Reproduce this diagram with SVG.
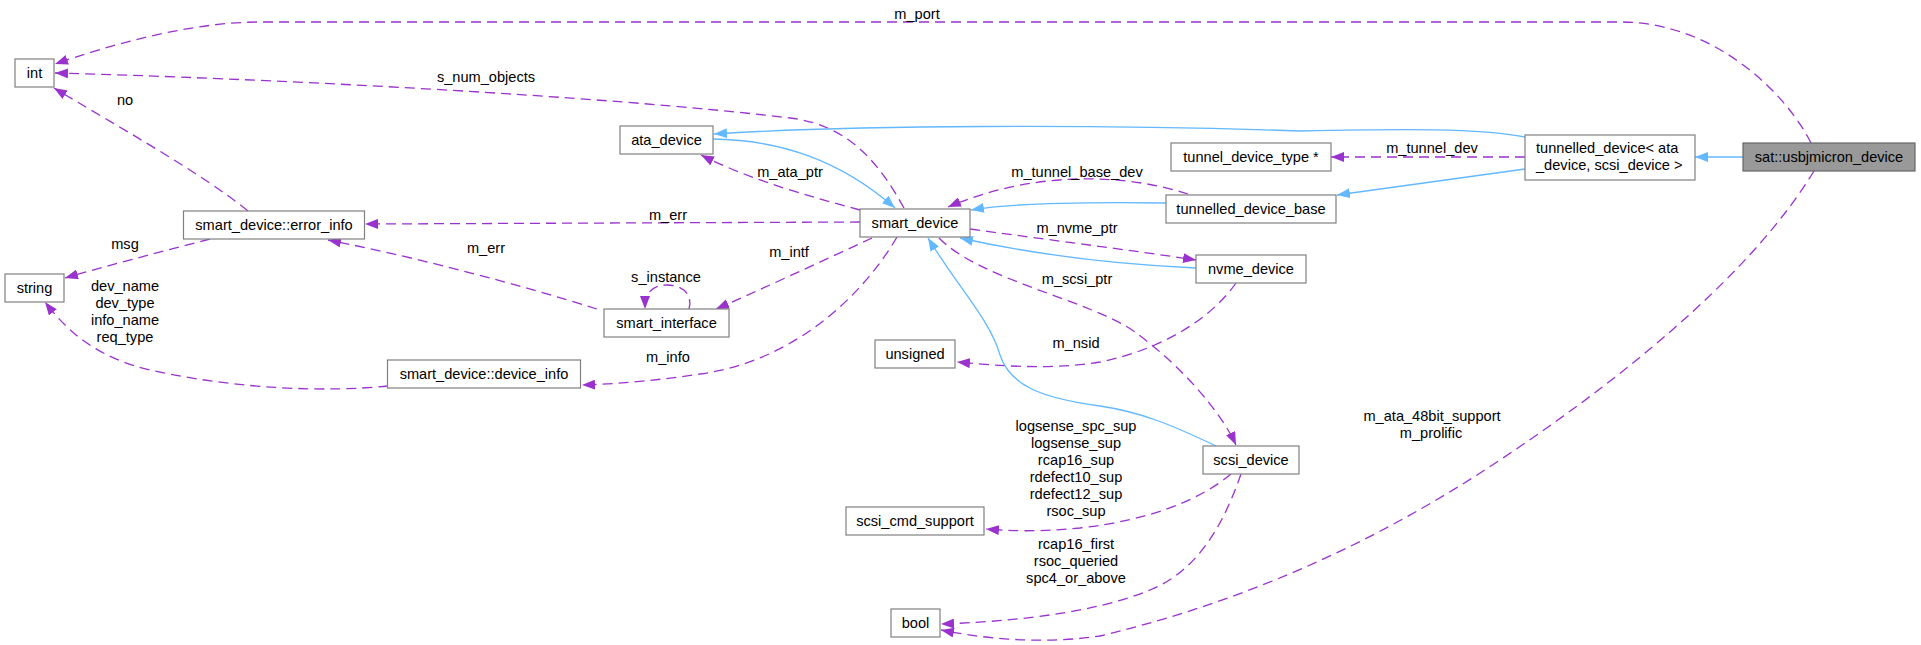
<svg xmlns="http://www.w3.org/2000/svg" width="1921" height="645" viewBox="0 0 1921 645">
<style>
.n rect{fill:#fff;stroke:#808080;stroke-width:1.2}
.n.f rect{fill:#999;stroke:#666}
text{font-family:"Liberation Sans",Arial,sans-serif;font-size:14.6px;fill:#000}
.n text{text-anchor:middle}
.lb text{text-anchor:middle}
.d{fill:none;stroke:#9a32cd;stroke-width:1.3;stroke-dasharray:10,6;marker-end:url(#ap)}
.s{fill:none;stroke:#63b8ff;stroke-width:1.3;marker-end:url(#ab)}
</style>
<defs>
<marker id="ap" markerUnits="userSpaceOnUse" viewBox="0 0 14 10" markerWidth="14" markerHeight="10" refX="13" refY="5" orient="auto"><path d="M0,0 L13,5 L0,10 z" fill="#9a32cd"/></marker>
<marker id="ab" markerUnits="userSpaceOnUse" viewBox="0 0 14 10" markerWidth="14" markerHeight="10" refX="13" refY="5" orient="auto"><path d="M0,0 L13,5 L0,10 z" fill="#63b8ff"/></marker>
</defs>
<rect width="1921" height="645" fill="#fff"/>
<g id="edges">
<path class="d" d="M1811,143 C1790,100 1720,22 1620,22 L260,22 C190,22 110,45 55,64"/>
<path class="d" d="M904,208 C880,165 850,125 790,118 C600,95 250,78 55,73"/>
<path class="d" d="M248,211 C200,172 110,122 54,88"/>
<path class="d" d="M860,222 L365,224"/>
<path class="d" d="M597,309 C520,285 420,258 328,240"/>
<path class="d" d="M210,239 C160,252 110,265 65,278"/>
<path class="d" d="M388,386 C330,392 240,390 150,370 C100,358 70,335 45,302"/>
<path class="d" d="M689,309 C693,296 684,285 667,285 C652,285 645,293 645,309"/>
<path class="d" d="M872,238 C820,262 760,290 716,309"/>
<path class="d" d="M897,237 C860,300 790,362 700,374 C660,380 620,384 582,385"/>
<path class="d" d="M860,210 C815,198 750,180 701,155"/>
<path class="d" d="M1188,194 C1120,172 1030,172 948,207"/>
<path class="d" d="M970,229 C1050,240 1130,250 1196,260"/>
<path class="d" d="M939,238 C980,280 1090,300 1135,332 C1180,365 1220,410 1236,445"/>
<path class="d" d="M1236,283 C1210,320 1160,350 1100,362 C1050,370 1000,366 957,362"/>
<path class="d" d="M1231,474 C1200,500 1150,520 1080,528 C1040,532 1010,531 986,529"/>
<path class="d" d="M1241,474 C1225,520 1200,570 1150,590 C1090,615 1000,622 941,624"/>
<path class="d" d="M1814,171 C1760,260 1650,360 1500,460 C1380,540 1250,600 1100,636 C1040,645 980,638 941,630"/>
<path class="d" d="M1525,157 L1331,157"/>
<path class="s" d="M1743,157 L1695,157"/>
<path class="s" d="M1525,137 C1480,128 1400,129 1300,131 C1100,124 850,125 714,134"/>
<path class="s" d="M1525,169 L1337,195"/>
<path class="s" d="M1166,203 C1100,202 1020,202 971,210"/>
<path class="s" d="M1196,268 C1130,265 1050,258 960,238"/>
<path class="s" d="M1216,446 C1170,424 1140,412 1100,406 C1040,398 1010,385 1000,355 C990,320 960,290 928,238"/>
<path class="s" d="M713,139 C780,140 840,160 895,208"/>
</g>
<g id="labels" class="lb">
<text x="917" y="19">m_port</text>
<text x="486" y="82">s_num_objects</text>
<text x="125" y="105">no</text>
<text x="668" y="220">m_err</text>
<text x="486" y="253">m_err</text>
<text x="125" y="249">msg</text>
<text x="125" y="291">dev_name</text>
<text x="125" y="308">dev_type</text>
<text x="125" y="325">info_name</text>
<text x="125" y="342">req_type</text>
<text x="666" y="282">s_instance</text>
<text x="789" y="257">m_intf</text>
<text x="668" y="362">m_info</text>
<text x="790" y="177">m_ata_ptr</text>
<text x="1077" y="177">m_tunnel_base_dev</text>
<text x="1077" y="233">m_nvme_ptr</text>
<text x="1077" y="284">m_scsi_ptr</text>
<text x="1076" y="348">m_nsid</text>
<text x="1076" y="431">logsense_spc_sup</text>
<text x="1076" y="448">logsense_sup</text>
<text x="1076" y="465">rcap16_sup</text>
<text x="1076" y="482">rdefect10_sup</text>
<text x="1076" y="499">rdefect12_sup</text>
<text x="1076" y="516">rsoc_sup</text>
<text x="1076" y="549">rcap16_first</text>
<text x="1076" y="566">rsoc_queried</text>
<text x="1076" y="583">spc4_or_above</text>
<text x="1432" y="153">m_tunnel_dev</text>
<text x="1432" y="421">m_ata_48bit_support</text>
<text x="1431" y="438">m_prolific</text>
</g>
<g id="n_int" class="n"><rect x="15" y="59" width="39" height="28"/><text x="34.5" y="78">int</text></g>
<g id="n_string" class="n"><rect x="5" y="274" width="59" height="28"/><text x="34.5" y="293">string</text></g>
<g id="n_error_info" class="n"><rect x="183.5" y="211" width="181" height="28"/><text x="274" y="230">smart_device::error_info</text></g>
<g id="n_device_info" class="n"><rect x="387.5" y="360" width="193" height="28"/><text x="484" y="379">smart_device::device_info</text></g>
<g id="n_ata_device" class="n"><rect x="620" y="126" width="93" height="28"/><text x="666.5" y="145">ata_device</text></g>
<g id="n_smart_device" class="n"><rect x="860" y="209" width="110" height="28"/><text x="915" y="228">smart_device</text></g>
<g id="n_smart_interface" class="n"><rect x="604" y="309" width="125" height="28"/><text x="666.5" y="328">smart_interface</text></g>
<g id="n_unsigned" class="n"><rect x="875" y="340" width="80" height="28"/><text x="915" y="359">unsigned</text></g>
<g id="n_scsi_cmd_support" class="n"><rect x="846" y="507" width="138" height="28"/><text x="915" y="526">scsi_cmd_support</text></g>
<g id="n_bool" class="n"><rect x="891" y="609" width="49" height="28"/><text x="915.5" y="628">bool</text></g>
<g id="n_tunnel_device_type" class="n"><rect x="1171" y="143" width="160" height="28"/><text x="1251" y="162">tunnel_device_type *</text></g>
<g id="n_tunnelled_device_base" class="n"><rect x="1166" y="195" width="170" height="28"/><text x="1251" y="214">tunnelled_device_base</text></g>
<g id="n_nvme_device" class="n"><rect x="1196" y="255" width="110" height="28"/><text x="1251" y="274">nvme_device</text></g>
<g id="n_scsi_device" class="n"><rect x="1203" y="446" width="96" height="28"/><text x="1251" y="465">scsi_device</text></g>
<g id="n_tunnelled_device" class="n"><rect x="1525" y="135" width="170" height="45"/><text x="1536" y="153" style="text-anchor:start">tunnelled_device&lt; ata</text><text x="1536" y="170" style="text-anchor:start">_device, scsi_device &gt;</text></g>
<g id="n_usbjmicron" class="n f"><rect x="1743" y="143" width="172" height="28"/><text x="1829" y="162">sat::usbjmicron_device</text></g>
</svg>
